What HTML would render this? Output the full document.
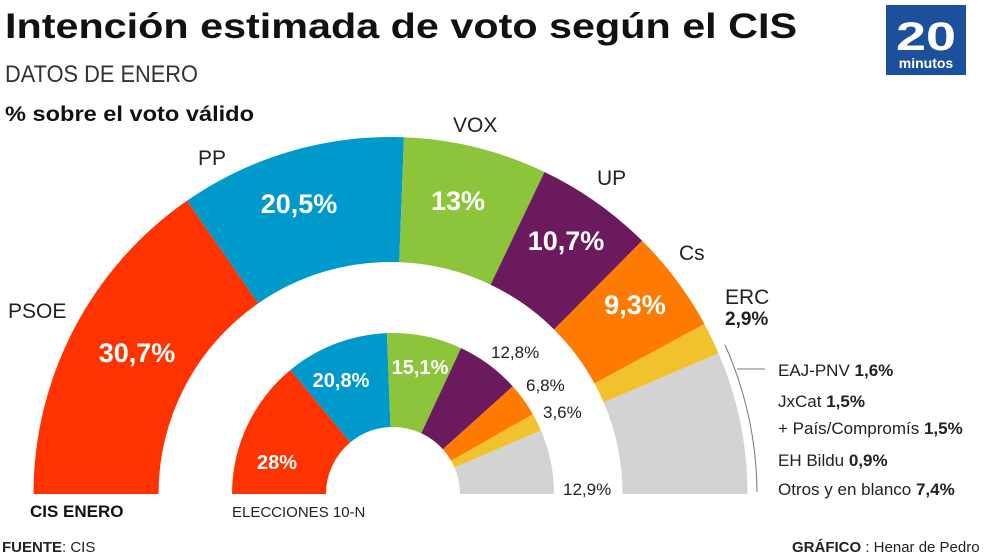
<!DOCTYPE html>
<html><head><meta charset="utf-8"><style>
html,body{margin:0;padding:0;background:#fff}
svg{display:block;font-family:"Liberation Sans",sans-serif}
</style></head><body>
<svg id="s" width="990" height="556" viewBox="0 0 990 556">
<g id="arcs"></g>
<text x="5" y="38" font-size="35" font-weight="bold" fill="#111" textLength="792" lengthAdjust="spacingAndGlyphs">Intención estimada de voto según el CIS</text>
<text x="5" y="82" font-size="24" fill="#333" textLength="193" lengthAdjust="spacingAndGlyphs">DATOS DE ENERO</text>
<text x="5" y="121" font-size="21" font-weight="bold" fill="#111" textLength="249" lengthAdjust="spacingAndGlyphs">% sobre el voto válido</text>
<rect x="886" y="5" width="80" height="70" fill="#1c4f9c"/>
<text x="926" y="50" font-size="40" font-weight="bold" fill="#fff" text-anchor="middle" textLength="60" lengthAdjust="spacingAndGlyphs">20</text>
<text x="926" y="68" font-size="14" font-weight="bold" fill="#fff" text-anchor="middle">minutos</text>
<g font-size="21" fill="#222">
<text x="8" y="318">PSOE</text>
<text x="198" y="165">PP</text>
<text x="453" y="132">VOX</text>
<text x="597" y="185">UP</text>
<text x="679" y="260">Cs</text>
<text x="725" y="304">ERC</text>
</g>
<text x="725" y="325" font-size="19" font-weight="bold" fill="#222">2,9%</text>
<g font-size="27" font-weight="bold" fill="#fff" text-anchor="middle">
<text x="137" y="362">30,7%</text>
<text x="299" y="213">20,5%</text>
<text x="458" y="210">13%</text>
<text x="566" y="250">10,7%</text>
<text x="635" y="314">9,3%</text>
</g>
<g font-size="20" font-weight="bold" fill="#fff" text-anchor="middle">
<text x="277" y="469">28%</text>
<text x="341" y="387">20,8%</text>
<text x="420" y="374">15,1%</text>
</g>
<g font-size="17" fill="#222">
<text x="491" y="358">12,8%</text>
<text x="526" y="391">6,8%</text>
<text x="543" y="418">3,6%</text>
<text x="563" y="495">12,9%</text>
</g>
<path d="M725,345 A367,367 0 0 1 757,492" fill="none" stroke="#777" stroke-width="1"/>
<line x1="737" y1="369" x2="765" y2="369" stroke="#777" stroke-width="1"/>
<g font-size="17" fill="#222">
<text x="778" y="376">EAJ-PNV <tspan font-weight="bold">1,6%</tspan></text>
<text x="778" y="407">JxCat <tspan font-weight="bold">1,5%</tspan></text>
<text x="778" y="434">+ País/Compromís <tspan font-weight="bold">1,5%</tspan></text>
<text x="778" y="466">EH Bildu <tspan font-weight="bold">0,9%</tspan></text>
<text x="778" y="495">Otros y en blanco <tspan font-weight="bold">7,4%</tspan></text>
</g>
<text x="30" y="517" font-size="17" font-weight="bold" fill="#111">CIS ENERO</text>
<text x="232" y="517" font-size="15" fill="#222">ELECCIONES 10-N</text>
<text x="2" y="552" font-size="15" fill="#222"><tspan font-weight="bold">FUENTE</tspan>: CIS</text>
<text x="792" y="552" font-size="15" fill="#222"><tspan font-weight="bold">GRÁFICO</tspan> : Henar de Pedro</text>
</svg>
<script>
var cols=["#ff3300","#0099cc","#8cc43c","#6b1a5e","#ff7a00","#f2c12e","#d3d3d3"];
function ring(cx,cy,R,r,vals){
 var g=document.getElementById("arcs"),a=0,h="";
 vals.forEach(function(v,i){
  var a0=Math.PI*(1-a/100),a1=Math.PI*(1-(a+v)/100);a+=v;
  function p(rad,an){return (cx+rad*Math.cos(an)).toFixed(2)+","+(cy-rad*Math.sin(an)).toFixed(2);}
  h+='<path fill="'+cols[i]+'" d="M'+p(R,a0)+' A'+R+','+R+' 0 0 1 '+p(R,a1)+' L'+p(r,a1)+' A'+r+','+r+' 0 0 0 '+p(r,a0)+' Z"/>';
 });
 g.innerHTML+=h;
}
ring(390.5,494,357,232,[30.7,20.5,13,10.7,9.3,2.9,12.9]);
ring(393,494,161,67,[28,20.8,15.1,12.8,6.8,3.6,12.9]);
</script>
</body></html>
